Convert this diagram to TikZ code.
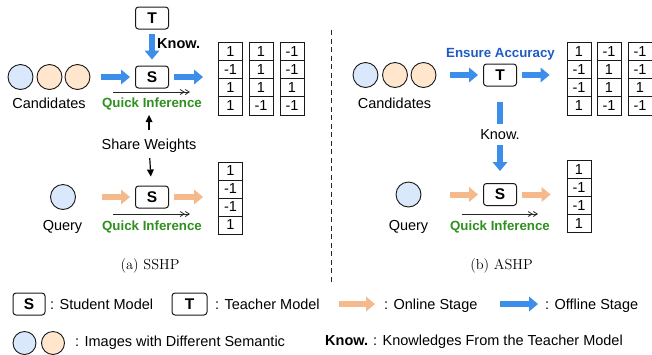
\documentclass[tikz,border=0pt]{standalone}
\usepackage{fontspec}
\setsansfont{Liberation Sans}
\usetikzlibrary{arrows.meta,calc}
\definecolor{offblue}{HTML}{3D8EEB}
\definecolor{onorange}{HTML}{F5B98C}
\definecolor{imgblue}{HTML}{DAE8FC}
\definecolor{imgorange}{HTML}{FFE6CC}
\definecolor{qigreen}{HTML}{2F8F1F}
\definecolor{eablue}{HTML}{1E5BC6}
\newcommand\szReg{\fontsize{14.5pt}{17pt}\selectfont}
\newcommand\szLbl{\fontsize{13.3pt}{16pt}\selectfont}
\newcommand\szBox{\fontsize{15.5pt}{18pt}\selectfont}

\begin{document}
\begin{tikzpicture}[x=1pt,y=-1pt,
  txt/.style={font=\sffamily\szReg, inner sep=0pt, anchor=base},
  model/.style={draw=black!90, rounded corners=3pt, line width=1pt, minimum width=33pt,
    minimum height=22pt, inner sep=0pt, font=\sffamily\bfseries\szBox, fill=white},
  img/.style={circle, draw=black!90, line width=0.9pt, minimum size=25pt, inner sep=0pt},
  imgb/.style={img, fill=imgblue},
  imgo/.style={img, fill=imgorange},
  cell/.style={draw=black!90, line width=0.9pt, minimum width=24pt, minimum height=18.25pt,
    inner sep=0pt, font=\sffamily\szReg},
  offline/.style={draw=offblue, line width=6pt, -{Triangle[length=9pt,width=15pt,line width=0pt]}},
  online/.style={draw=onorange, line width=6pt, -{Triangle[length=9pt,width=15pt,line width=0pt]}},
  fast/.style={draw=black!85, line width=0.8pt,
    -{Straight Barb[length=4pt,width=5pt] Straight Barb[length=4pt,width=5pt]}},
  share/.style={draw=black, line width=1.2pt, -{Triangle[length=7pt,width=7pt,line width=0pt]}},
  qi/.style={txt, font=\sffamily\bfseries\szLbl, text=qigreen},
]
\useasboundingbox (0,0) rectangle (652,354);

% ---------- (a) SSHP ----------
\node[model] (T1) at (152,18) {T};
\node[model] (S1) at (152,77) {S};
\node[imgb] (c1) at (20.5,77) {};
\node[imgo] (c2) at (49.5,77) {};
\node[imgo] (c3) at (77.5,77) {};
\node[txt] (cand1) at (49,108) {Candidates};
\node[qi] (qi1) at (152,107) {Quick Inference};
\coordinate (fa1s) at (113,92);
\coordinate (fa1e) at (190,92);
\draw[fast] (fa1s) -- (fa1e);
\draw[offline, shorten <=4pt, shorten >=6pt] (T1) -- (S1);
\node[txt, anchor=base west, font=\sffamily\bfseries\szReg] (know1) at (157,48) {Know.};
\draw[offline, shorten <=11pt, shorten >=5pt] (c3) -- (S1);

% code matrix of the candidates
\foreach \c/\x/\vals in {1/230.5/{1,-1,1,1}, 2/261/{1,1,1,-1}, 3/292/{-1,-1,1,-1}} {
  \foreach \v [count=\r] in \vals {
    \node[cell] (mL-\r-\c) at (\x, {42+18.25*(\r-0.5)}) {\v};
  }
}
\draw[offline, shorten <=5pt, shorten >=15pt] (S1) -- (S1 -| mL-1-1.west);

% shared weights
\node[txt] (sw) at (149,149) {Share Weights};
\coordinate (swtop) at (149,115);
\node[model] (S2) at (152,197) {S};
\draw[share, shorten <=8pt] (sw) -- (swtop);
\draw[share, shorten <=6pt, shorten >=9pt] (sw) -- (S2);

\node[imgb] (q1) at (63,197) {};
\node[txt] (query1) at (62.5,230) {Query};
\node[qi] (qi2) at (152,230) {Quick Inference};
\coordinate (fa2s) at (113,214);
\coordinate (fa2e) at (190,214);
\draw[fast] (fa2s) -- (fa2e);
\draw[online, shorten <=26.5pt, shorten >=5pt] (q1) -- (S2);
\foreach \v [count=\r] in {1,-1,-1,1} {
  \node[cell, minimum height=18pt] (vL-\r) at (230.5, {162+18*(\r-0.5)}) {\v};
}
\draw[online, shorten <=5pt, shorten >=15pt] (S2) -- (S2 -| vL-1.west);

\node[font=\rmfamily\szReg, anchor=base, inner sep=0pt] (capa) at (150,269) {(a) SSHP};

% ---------- divider ----------
\coordinate (divtop) at (331,30);
\coordinate (divbot) at (331,283);
\draw[black!85, line width=1pt, dash pattern=on 5pt off 3.5pt] (divtop) -- (divbot);

% ---------- (b) ASHP ----------
\node[txt, font=\sffamily\bfseries\szLbl, text=eablue] (ea) at (500.5,57) {Ensure Accuracy};
\node[model] (T2) at (500,75) {T};
\node[imgb] (c4) at (365.5,75) {};
\node[imgo] (c5) at (395,75) {};
\node[imgo] (c6) at (423.5,75) {};
\node[txt] (cand2) at (394.5,108) {Candidates};
\draw[offline, shorten <=14pt, shorten >=5pt] (c6) -- (T2);
\foreach \c/\x/\vals in {1/579/{1,-1,-1,1}, 2/609/{-1,1,1,-1}, 3/640/{-1,-1,1,-1}} {
  \foreach \v [count=\r] in \vals {
    \node[cell] (mR-\r-\c) at (\x, {42+18.25*(\r-0.5)}) {\v};
  }
}
\draw[offline, shorten <=5pt, shorten >=17pt] (T2) -- (T2 -| mR-1-1.west);

\node[model] (S3) at (500,194.5) {S};
\draw[offline, shorten <=15pt, shorten >=12pt] (T2) --
  node[font=\sffamily\szReg, fill=white, inner sep=0pt, minimum height=21pt, minimum width=44pt] (know2) {Know.} (S3);

\node[imgb] (q2) at (408.5,194.5) {};
\node[txt] (query2) at (408.5,230) {Query};
\node[qi] (qi3) at (500,230) {Quick Inference};
\coordinate (fa3s) at (462,214);
\coordinate (fa3e) at (538,214);
\draw[fast] (fa3s) -- (fa3e);
\draw[online, shorten <=29pt, shorten >=5pt] (q2) -- (S3);
\foreach \v [count=\r] in {1,-1,-1,1} {
  \node[cell, minimum height=18.1pt] (vR-\r) at (579, {160.5+18.1*(\r-0.5)}) {\v};
}
\draw[online, shorten <=5pt, shorten >=16pt] (S3) -- (S3 -| vR-1.west);

\node[font=\rmfamily\szReg, anchor=base, inner sep=0pt] (capb) at (501.5,269) {(b) ASHP};

% ---------- legend ----------
\node[model, minimum width=32pt] (legS) at (29,304) {S};
\node[txt, anchor=base west] (legStxt) at (50,309) {: Student Model};
\node[model, minimum width=35pt] (legT) at (189.5,304) {T};
\node[txt, anchor=base west] (legTtxt) at (215,309) {: Teacher Model};
\coordinate (lon1) at (339,304);
\coordinate (lon2) at (375,304);
\draw[online] (lon1) -- (lon2);
\node[txt, anchor=base west] (lontxt) at (384,309) {: Online Stage};
\coordinate (loff1) at (500,304);
\coordinate (loff2) at (538,304);
\draw[offline] (loff1) -- (loff2);
\node[txt, anchor=base west] (lofftxt) at (545,309) {: Offline Stage};
\node[imgb, minimum size=23pt] (legc1) at (24.5,343) {};
\node[imgo, minimum size=23pt] (legc2) at (53,343) {};
\node[txt, anchor=base west] (legctxt) at (75,346) {: Images with Different Semantic};
\node[txt, anchor=base west, font=\sffamily\bfseries\szReg] (legk) at (325,345) {Know.};
\node[txt, anchor=base west] (legktxt) at (373,345) {: Knowledges From the Teacher Model};
\end{tikzpicture}
\end{document}
